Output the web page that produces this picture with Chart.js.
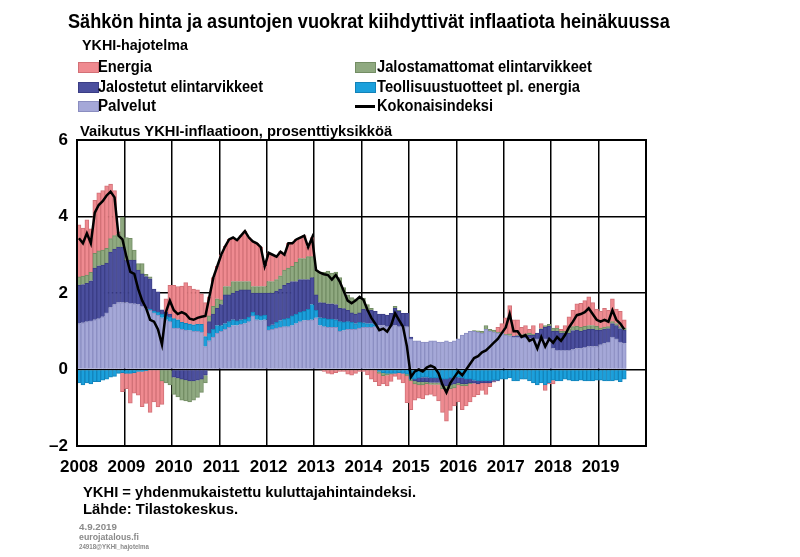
<!DOCTYPE html>
<html>
<head>
<meta charset="utf-8">
<script src="https://cdn.jsdelivr.net/npm/chart.js"></script>
<style>
  body { margin: 0; background: #fff; }
  #wrap { position: relative; width: 800px; height: 557px; overflow: hidden; font-family: "Liberation Sans", Arial, sans-serif; font-weight: bold; color: #000; }
  #wrap canvas { position: absolute; left: 0; top: 0; }
  .t { position: absolute; white-space: nowrap; transform-origin: 0 50%; line-height: 1; }
  .sw { position: absolute; width: 19px; height: 9px; }
  .ln { position: absolute; width: 20px; height: 3px; background: #000; }
</style>
</head>
<body>
<div id="wrap">
  <canvas id="chart" width="800" height="557"></canvas>

  <div class="t" data-w="602" style="left:68px; top:11px; font-size:20px;">Sähkön hinta ja asuntojen vuokrat kiihdyttivät inflaatiota heinäkuussa</div>
  <div class="t" data-w="106" style="left:82px; top:37px; font-size:15px;">YKHI-hajotelma</div>

  <div class="sw" style="left:78px; top:62px; background:#ef8a90; border:1px solid #d37076;"></div>
  <div class="t" data-w="54" style="left:98px; top:59px; font-size:16px;">Energia</div>
  <div class="sw" style="left:78px; top:82px; background:#4b4f9e; border:1px solid #3a3d85;"></div>
  <div class="t" data-w="165" style="left:98px; top:79px; font-size:16px;">Jalostetut elintarvikkeet</div>
  <div class="sw" style="left:78px; top:101px; background:#a5a8d8; border:1px solid #8a8dc0;"></div>
  <div class="t" data-w="58" style="left:98px; top:98px; font-size:16px;">Palvelut</div>

  <div class="sw" style="left:355px; top:62px; background:#8fa980; border:1px solid #738d64;"></div>
  <div class="t" data-w="215" style="left:377px; top:59px; font-size:16px;">Jalostamattomat elintarvikkeet</div>
  <div class="sw" style="left:355px; top:82px; background:#1ba0dc; border:1px solid #1282b8;"></div>
  <div class="t" data-w="203" style="left:377px; top:79px; font-size:16px;">Teollisuustuotteet pl. energia</div>
  <div class="ln" style="left:355px; top:105px;"></div>
  <div class="t" data-w="116" style="left:377px; top:98px; font-size:16px;">Kokonaisindeksi</div>

  <div class="t" data-w="312" style="left:80px; top:123px; font-size:15px;">Vaikutus YKHI-inflaatioon, prosenttiyksikköä</div>

  <div class="t" data-w="333" style="left:83px; top:484px; font-size:15px;">YKHI = yhdenmukaistettu kuluttajahintaindeksi.</div>
  <div class="t" data-w="155" style="left:83px; top:501px; font-size:15px;">Lähde: Tilastokeskus.</div>

  <div class="t" data-w="38" style="left:79px; top:523px; font-size:9px; color:#8a8a8a;">4.9.2019</div>
  <div class="t" data-w="60" style="left:79px; top:533px; font-size:9px; color:#8a8a8a;">eurojatalous.fi</div>
  <div class="t" data-w="70" style="left:79px; top:543px; font-size:7px; color:#8a8a8a;">24918@YKHI_hajotelma</div>
</div>

<script>
// Monthly contributions to HICP inflation, Jan 2008 - Jul 2019 (percentage points)
const years = [2008, 2009, 2010, 2011, 2012, 2013, 2014, 2015, 2016, 2017, 2018, 2019];

const palvelut = [
  1.2,1.22,1.25,1.27,1.3,1.33,1.38,1.48,1.62,1.7,1.75,1.75,
  1.75,1.73,1.72,1.7,1.65,1.6,1.55,1.48,1.42,1.35,1.3,1.25,
  1.08,1.08,1.05,1.03,1.02,1.0,1.0,0.98,0.6,0.75,0.85,0.95,
  1.0,1.05,1.1,1.15,1.15,1.18,1.2,1.25,1.4,1.3,1.28,1.3,
  1.03,1.05,1.08,1.1,1.12,1.12,1.15,1.2,1.25,1.28,1.29,1.3,
  1.35,1.15,1.12,1.1,1.1,1.1,1.0,1.02,1.05,1.05,1.05,1.08,
  1.1,1.1,1.1,1.12,1.15,1.15,1.12,1.12,1.15,1.12,1.12,1.12,
  0.8,0.75,0.75,0.72,0.72,0.75,0.75,0.72,0.72,0.75,0.72,0.75,
  0.8,0.9,0.95,1.0,1.0,0.98,0.95,1.05,1.0,0.98,0.95,0.95,
  0.9,0.88,0.85,0.85,0.83,0.83,0.82,0.8,0.8,0.8,0.8,0.78,
  0.55,0.5,0.5,0.5,0.5,0.52,0.55,0.55,0.58,0.6,0.6,0.6,
  0.65,0.68,0.72,0.85,0.8,0.72,0.68
];

const teollisuus = [
  -0.35,-0.4,-0.35,-0.38,-0.32,-0.32,-0.28,-0.25,-0.2,-0.18,-0.1,-0.08,
  -0.1,-0.1,-0.08,-0.05,-0.05,-0.03,0.02,0.05,0.08,0.1,0.1,0.12,
  0.25,0.22,0.18,0.18,0.17,0.17,0.18,0.2,0.26,0.2,0.2,0.2,
  0.15,0.15,0.15,0.15,0.12,0.12,0.12,0.12,0.1,0.12,0.12,0.12,
  0.1,0.12,0.15,0.18,0.2,0.22,0.25,0.25,0.25,0.25,0.28,0.4,
  0.2,0.2,0.22,0.22,0.22,0.2,0.25,0.22,0.2,0.18,0.15,0.15,
  0.12,0.1,0.1,0.05,-0.05,-0.08,-0.1,-0.1,-0.1,-0.08,-0.1,-0.12,
  -0.25,-0.25,-0.22,-0.2,-0.2,-0.22,-0.22,-0.22,-0.25,-0.25,-0.22,-0.2,
  -0.2,-0.22,-0.25,-0.25,-0.28,-0.3,-0.3,-0.3,-0.3,-0.28,-0.28,-0.25,
  -0.25,-0.22,-0.3,-0.3,-0.25,-0.25,-0.3,-0.35,-0.4,-0.35,-0.4,-0.35,
  -0.28,-0.3,-0.3,-0.25,-0.28,-0.3,-0.3,-0.28,-0.3,-0.3,-0.3,-0.28,
  -0.28,-0.3,-0.3,-0.3,-0.28,-0.32,-0.25
];

const jalostetut = [
  1.0,1.0,1.0,1.05,1.35,1.38,1.35,1.3,1.45,1.45,1.45,1.45,
  1.1,1.13,1.14,0.9,0.85,0.83,0.8,0.57,0.53,0.11,0.1,0.08,
  -0.2,-0.22,-0.25,-0.27,-0.3,-0.3,-0.28,-0.25,-0.15,0.3,0.4,0.45,
  0.55,0.75,0.7,0.7,0.78,0.78,0.76,0.71,0.5,0.58,0.6,0.58,
  0.87,0.83,0.82,0.82,0.88,0.91,0.9,0.85,0.85,0.82,0.78,0.7,
  0.4,0.4,0.4,0.4,0.4,0.4,0.35,0.35,0.3,0.25,0.25,0.25,
  0.35,0.35,0.35,0.35,0.3,0.3,0.3,0.35,0.45,0.4,0.35,0.35,
  0.05,-0.05,-0.1,-0.12,-0.12,-0.12,-0.12,-0.12,-0.15,-0.18,-0.18,-0.18,
  -0.15,-0.15,-0.12,-0.1,-0.08,-0.08,-0.05,-0.05,-0.05,-0.03,-0.02,0,
  0,0,0.02,0.03,0.05,0.05,0.08,0.1,0.15,0.25,0.3,0.35,
  0.45,0.5,0.45,0.45,0.45,0.5,0.48,0.45,0.45,0.45,0.45,0.43,
  0.38,0.38,0.35,0.35,0.35,0.35,0.35
];

const jalostamattomat = [
  0.22,0.22,0.22,0.22,0.39,0.39,0.39,0.39,0.35,0.35,0.35,0.78,
  0.6,0.57,0.26,0.17,0.27,0.06,0.05,0,0,-0.3,-0.35,-0.4,
  -0.45,-0.5,-0.55,-0.55,-0.55,-0.5,-0.45,-0.35,-0.2,0.15,0.2,0.25,
  0.12,0.22,0.22,0.3,0.25,0.22,0.22,0.22,0.17,0.17,0.17,0.17,
  0.3,0.3,0.3,0.35,0.4,0.4,0.4,0.5,0.55,0.55,0.6,0.55,
  0.65,0.8,0.8,0.85,0.8,0.85,0.8,0.55,0.4,0.4,0.4,0.4,
  0.3,0.15,0.05,-0.02,-0.05,-0.08,-0.05,-0.02,0.05,0.03,0,-0.05,
  -0.05,-0.08,-0.08,-0.08,-0.05,-0.05,-0.05,-0.05,-0.1,-0.12,-0.1,-0.1,
  -0.05,-0.05,-0.05,-0.02,0.02,0.03,0.05,0.1,0.05,0.05,0.03,0.03,
  0.02,0.05,0,0.02,0.03,0.05,0.05,0.02,0,0.02,0.05,0.05,
  0.08,0.08,0.05,0.05,0.12,0.1,0.1,0.1,0.1,0.1,0.1,0.1,
  0.05,0.05,0.05,0.05,0.05,0.05,0.05
];

const energia = [
  1.36,1.26,1.44,1.14,1.38,1.52,1.56,1.63,1.43,1.18,0.05,-0.5,
  -0.4,-0.78,-0.54,-0.62,-0.92,-0.86,-1.12,-0.85,-0.98,-0.61,0.35,0.75,
  0.87,0.87,0.95,1.06,0.99,0.93,0.9,0.8,0.89,0.5,0.75,0.85,
  1.18,1.05,1.23,1.15,1.08,1.2,1.32,1.15,1.18,1.13,1.03,0.53,
  0.75,0.7,0.6,0.63,0.4,0.65,0.6,0.6,0.55,0.6,0.25,0.5,
  0,-0.02,-0.05,-0.1,-0.12,-0.08,-0.05,-0.05,-0.12,-0.15,-0.1,-0.05,
  -0.05,-0.14,-0.25,-0.3,-0.32,-0.22,-0.28,-0.19,-0.08,-0.18,-0.25,-0.7,
  -0.75,-0.42,-0.35,-0.37,-0.3,-0.26,-0.31,-0.43,-0.62,-0.8,-0.57,-0.47,
  -0.45,-0.63,-0.53,-0.48,-0.36,-0.28,-0.2,-0.3,-0.1,-0.02,0.12,0.22,
  0.43,0.74,0.43,0.4,0.19,0.22,0.1,0.23,0,0.13,-0.15,-0.03,
  -0.1,0.07,0.05,0.15,0.31,0.43,0.59,0.63,0.67,0.75,0.6,0.45,
  0.45,0.49,0.43,0.6,0.38,0.4,0.22
];

const kokonaisindeksi = [
  3.43,3.3,3.56,3.3,4.1,4.3,4.4,4.55,4.65,4.5,3.5,3.4,
  2.95,2.55,2.5,2.1,1.8,1.6,1.3,1.25,1.05,0.65,1.5,1.8,
  1.55,1.45,1.5,1.45,1.33,1.3,1.35,1.38,1.4,1.9,2.4,2.7,
  3.0,3.22,3.4,3.45,3.38,3.5,3.62,3.45,3.35,3.3,3.2,2.7,
  3.05,3.0,2.95,3.08,3.0,3.3,3.3,3.4,3.45,3.5,3.2,3.45,
  2.6,2.53,2.49,2.47,2.35,2.47,2.3,2.05,1.8,1.73,1.8,1.9,
  1.82,1.56,1.35,1.2,1.03,1.07,0.99,1.16,1.47,1.29,1.12,0.6,
  -0.2,-0.05,0,-0.05,0.05,0.1,0.05,-0.1,-0.4,-0.6,-0.35,-0.2,
  -0.05,-0.15,0,0.15,0.3,0.35,0.45,0.5,0.6,0.7,0.8,0.95,
  1.1,1.45,1.0,1.0,0.85,0.9,0.75,0.8,0.55,0.85,0.6,0.8,
  0.7,0.85,0.75,0.9,1.1,1.25,1.42,1.45,1.5,1.6,1.45,1.3,
  1.25,1.3,1.25,1.55,1.3,1.2,1.05
];

const yTicks = [-2, 0, 2, 4, 6];

// one category per month, axis runs to the end of 2019
const labels = [];
years.forEach(y => { for (let m = 1; m <= 12; m++) labels.push(y + '-' + String(m).padStart(2, '0')); });

function barSet(label, data, fill, edge) {
  return {
    type: 'bar',
    label: label,
    data: data,
    backgroundColor: fill,
    borderColor: edge,
    borderWidth: 1,
    barPercentage: 1,
    categoryPercentage: 1,
    stack: 'osat',
    order: 2
  };
}

const frame = {
  id: 'frame',
  afterDraw(chart) {
    const a = chart.chartArea, c = chart.ctx;
    c.save();
    c.strokeStyle = '#000';
    c.lineWidth = 2;
    c.strokeRect(a.left, a.top, a.right - a.left, a.bottom - a.top);
    c.restore();
  }
};

new Chart(document.getElementById('chart'), {
  data: {
    labels: labels,
    datasets: [
      barSet('Palvelut', palvelut, '#a5a8d8', '#8b8ec2'),
      barSet('Teollisuustuotteet pl. energia', teollisuus, '#1ba0dc', '#1384bb'),
      barSet('Jalostetut elintarvikkeet', jalostetut, '#4b4f9e', '#3b3e86'),
      barSet('Jalostamattomat elintarvikkeet', jalostamattomat, '#8fa980', '#738d64'),
      barSet('Energia', energia, '#ef8a90', '#d27177'),
      {
        type: 'line',
        label: 'Kokonaisindeksi',
        data: kokonaisindeksi,
        borderColor: '#000',
        borderWidth: 2.5,
        pointRadius: 0,
        tension: 0,
        stack: 'total',
        order: 0
      }
    ]
  },
  options: {
    responsive: false,
    animation: false,
    devicePixelRatio: 1,
    layout: { autoPadding: false, padding: { left: 0, top: 140, right: 154, bottom: 71 } },
    plugins: { legend: { display: false }, tooltip: { enabled: false } },
    scales: {
      x: {
        stacked: true,
        offset: true,
        afterFit: s => { s.height = 40; },
        border: { display: false },
        grid: {
          offset: true,
          drawTicks: false,
          lineWidth: 1.5,
          color: ctx => (ctx.index % 12 === 0 ? '#000' : 'rgba(0,0,0,0)')
        },
        ticks: {
          autoSkip: false,
          maxRotation: 0,
          padding: 11,
          color: '#000',
          font: { family: 'Liberation Sans', size: 17, weight: 'bold' },
          callback: (v, i) => (i % 12 === 0 ? labels[i].slice(0, 4) : '')
        }
      },
      y: {
        stacked: true,
        min: yTicks[0],
        max: yTicks[yTicks.length - 1],
        afterFit: s => { s.width = 77; },
        afterBuildTicks: s => { s.ticks = yTicks.map(v => ({ value: v })); },
        border: { display: false },
        grid: { drawTicks: false, color: '#000', lineWidth: 1.5 },
        ticks: {
          padding: 9,
          color: '#000',
          font: { family: 'Liberation Sans', size: 17, weight: 'bold' },
          callback: v => String(v).replace('-', '–')
        }
      }
    }
  },
  plugins: [frame]
});

// squeeze the narrow headline/legend texts to their measured widths
document.querySelectorAll('.t[data-w]').forEach(el => {
  const w = el.getBoundingClientRect().width;
  const target = parseFloat(el.dataset.w);
  el.style.transform = 'scaleX(' + (target / w).toFixed(3) + ')';
});
</script>
</body>
</html>
